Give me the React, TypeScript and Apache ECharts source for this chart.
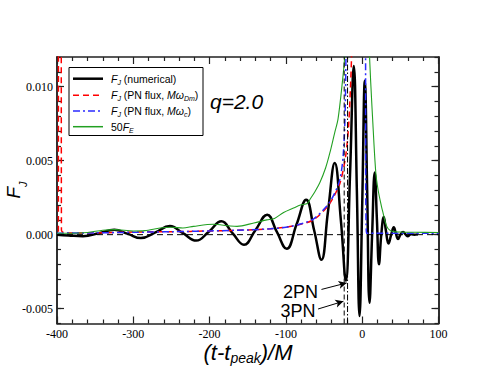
import React, { useEffect, useRef } from "react";
import * as echarts from "echarts";

// ---- data ----
const xTickValues = [-400, -300, -200, -100, 0, 100];
const yMajorTicks = [-0.005, 0, 0.005, 0.01];

const numericalFJ: [number, number][] = [
  [-400, 0.0], [-385, -0.00005], [-366, -0.0001], [-345, 0.0001], [-325, 0.00034],
  [-307, 0.00005], [-290, -0.00023], [-271, 0.00015], [-252, 0.00058], [-235, 0.0001],
  [-217.5, -0.0004], [-201, 0.0002], [-184.5, 0.0009], [-170, 0.0001], [-155, -0.00068],
  [-140, 0.0003], [-124.5, 0.00135], [-112, 0.0002], [-99, -0.00095], [-86, 0.0007],
  [-73.5, 0.00236], [-63, 0.0003], [-53.5, -0.0017], [-45, 0.0015], [-36, 0.00484],
  [-28, 0.001], [-21.5, -0.0031], [-16, 0.004], [-11, 0.0114], [-7, 0.003],
  [-3.5, -0.0055], [0, 0.002], [3.5, 0.0104], [6.5, 0.003], [9.6, -0.0046],
  [13, 0.0], [16.4, 0.0042], [19.3, 0.001], [22, -0.002], [25, 0.0],
  [28.3, 0.0012], [31, 0.0003], [34.5, -0.0006], [38, 0.0], [41.4, 0.0005],
  [44, 0.0001], [47, -0.0003], [50, 0.0], [53.6, 0.00018], [57, 0.0],
  [60, -0.0001], [64, 0.00005], [68, 0.0], [73, 0.00002],
];

const pnFluxDm: [number, number][] = [
  [-398.2, 0.0002], [-397.4, 0.03], [-394.6, 0.03], [-394.2, 0.0003], [-390, 0.00012],
  [-350, 0.00012], [-300, 0.00018], [-250, 0.0002], [-200, 0.00025], [-150, 0.00032],
  [-120, 0.0004], [-100, 0.0005], [-82, 0.00068], [-64, 0.001], [-47, 0.0018],
  [-38, 0.0025], [-29, 0.0035], [-22, 0.0052], [-18, 0.0072], [-15.5, 0.0098],
  [-14, 0.012], [-12, 0.018], [-10, 0.03],
];

const pnFluxC: [number, number][] = [
  [-400, 0.0001], [-350, 0.00012], [-300, 0.00016], [-250, 0.0002], [-200, 0.00025],
  [-150, 0.00032], [-120, 0.0004], [-100, 0.0005], [-82, 0.0007], [-64, 0.00105],
  [-47, 0.0019], [-38, 0.0026], [-29.4, 0.0037], [-25, 0.0053], [-22.5, 0.008],
  [-21.3, 0.012], [-20, 0.02], [3.2, 0.02], [5.7, 0.0001], [100, 0.0001],
];

const fiftyFE: [number, number][] = [
  [-400, 0.0001], [-380, 0.0001], [-360, 0.00015], [-340, 0.0003], [-324, 0.00034],
  [-300, 0.00025], [-285, 0.00027], [-265, 0.00045], [-250, 0.0005], [-235, 0.00045],
  [-221, 0.00056], [-195, 0.0007], [-175, 0.0006], [-164, 0.00056], [-142, 0.00079],
  [-125, 0.001], [-115, 0.0011], [-103, 0.0015], [-90, 0.0018], [-81, 0.002],
  [-72, 0.0021], [-68.7, 0.00236], [-62, 0.0029], [-55.6, 0.0035], [-48, 0.0045],
  [-42.5, 0.0055], [-36, 0.0069], [-31.7, 0.0078], [-26, 0.0103], [-23, 0.012],
  [-20, 0.016], [8, 0.016], [9.7, 0.012], [14, 0.0075], [17.8, 0.0042],
  [20.9, 0.003], [25.3, 0.0019], [27.4, 0.00146], [30.5, 0.0008], [34, 0.0004],
  [40, 0.00022], [50, 0.00018], [70, 0.00016], [100, 0.00015],
];

const zeroLine: [number, number][] = [[-400, 0], [100, 0]];
const line3PN: [number, number][] = [[-23.6, -0.006], [-23.6, 0.012]];
const line2PN: [number, number][] = [[-19.2, -0.006], [-19.2, 0.012]];
const arrow2PN: [number, number][] = [[-53.4, -0.0037], [-20.4, -0.00326]];
const arrow3PN: [number, number][] = [[-57.8, -0.00502], [-24.6, -0.0045]];

const X_MIN = -400, X_MAX = 100, Y_MIN = -0.006, Y_MAX = 0.012;

const SERIF = "'Liberation Serif', 'Times New Roman', serif";
const SANS = "'Liberation Sans', Arial, Helvetica, sans-serif";

export default function App() {
  const ref = useRef<HTMLDivElement>(null);
  useEffect(() => {
    if (!ref.current) return;
    const chart = echarts.init(ref.current, undefined, { renderer: "svg" });
    const axisLine = { show: true, onZero: false, lineStyle: { color: "#222", width: 1.5 } };
    const majorTick = { show: true, inside: true, length: 7, lineStyle: { color: "#222", width: 1.2 } };
    const minorTickStyle = { show: true, inside: true, length: 4, lineStyle: { color: "#222", width: 1.2 } };
    const labelStyle = { color: "#000", fontFamily: SERIF, fontSize: 12 };

    const xBase = {
      type: "value", min: X_MIN, max: X_MAX, interval: 100,
      axisLine, axisTick: majorTick, splitLine: { show: false },
      minorTick: { show: true, splitNumber: 5, length: 4, lineStyle: { color: "#222", width: 1.2 } },
    };
    const yMinor = {
      type: "value", min: Y_MIN, max: Y_MAX, interval: 0.001,
      axisLine, axisTick: minorTickStyle, splitLine: { show: false },
      axisLabel: { show: false },
    };
    const yMajor = {
      type: "value", min: Y_MIN, max: Y_MAX,
      axisLine, splitLine: { show: false },
      axisTick: { ...majorTick, customValues: yMajorTicks },
    };

    const sub = (size: number, lh: number) => ({ fontFamily: SANS, fontStyle: "italic", fontSize: size, lineHeight: lh, verticalAlign: "bottom", fill: "#000" });
    const ital = (size: number, lh: number) => ({ fontFamily: SANS, fontStyle: "italic", fontSize: size, lineHeight: lh, fill: "#000" });

    const legendRows = [
      { text: "{i|F}{s|J} (numerical)", color: "#000", width: 2.5, type: "solid" as any },
      { text: "{i|F}{s|J} (PN flux, {i|Mω}{s|Dm})", color: "#ff0000", width: 1.5, type: [6, 4] as any },
      { text: "{i|F}{s|J} (PN flux, {i|Mω}{s|c})", color: "#2a2aff", width: 1.5, type: [7, 3, 2, 3] as any },
      { text: "50{i|F}{s|E}", color: "#22a022", width: 1.5, type: "solid" as any },
    ];
    const rowY = [78.7, 95.3, 111, 126.7];
    const legendEls: any[] = [
      { type: "rect", shape: { x: 69, y: 67.5, width: 134, height: 68 }, style: { fill: "#fff", stroke: "#000", lineWidth: 1 } },
    ];
    legendRows.forEach((r, i) => {
      legendEls.push({ type: "line", shape: { x1: 73, y1: rowY[i], x2: 103, y2: rowY[i] }, style: { stroke: r.color, lineWidth: r.width, lineDash: r.type === "solid" ? null : r.type } });
      legendEls.push({
        type: "text", x: 111, y: rowY[i],
        style: {
          text: r.text, fontFamily: SANS, fontSize: 10.5, lineHeight: 14, fill: "#000",
          verticalAlign: "middle", align: "left",
          rich: { i: ital(10.5, 14), s: sub(7, 6) },
        },
      });
    });

    const lineSeries = (name: string, data: any, color: string, width: number, type: any, smooth: number | boolean) => ({
      name, type: "line", data, showSymbol: false, symbol: "none", smooth,
      lineStyle: { color, width, type }, clip: true, silent: true, z: 2,
    });

    chart.setOption({
      animation: false,
      backgroundColor: "#fff",
      grid: { left: 57, top: 57, width: 381.5, height: 266.5, containLabel: false },
      xAxis: [
        { ...xBase, position: "bottom", axisLabel: { ...labelStyle, margin: 4, formatter: (v: number) => String(v), customValues: xTickValues } },
        { ...xBase, position: "top", axisLabel: { show: false } },
      ],
      yAxis: [
        { ...yMajor, position: "left", axisLabel: { ...labelStyle, margin: 4, customValues: yMajorTicks, formatter: (v: number) => v.toFixed(3) } },
        { ...yMinor, position: "left" },
        { ...yMajor, position: "right", axisLabel: { show: false } },
        { ...yMinor, position: "right" },
      ],
      series: [
        {
          ...lineSeries("zero", zeroLine, "#000", 1, [6, 4], false),
          markLine: {
            silent: true, symbol: ["none", "arrow"], symbolSize: [6, 8],
            lineStyle: { color: "#000", width: 1, type: "solid" }, label: { show: false },
            data: [
              [{ coord: arrow2PN[0] }, { coord: arrow2PN[1] }],
              [{ coord: arrow3PN[0] }, { coord: arrow3PN[1] }],
            ],
          },
        },
        lineSeries("numerical", numericalFJ, "#000", 2.5, "solid", 0.45),
        lineSeries("pnDm", pnFluxDm, "#ff0000", 1.5, [6, 4], 0.3),
        lineSeries("pnC", pnFluxC, "#2a2aff", 1.5, [7, 3, 2, 3], 0.3),
        lineSeries("fiftyFE", fiftyFE, "#22a022", 1.1, "solid", 0.3),
        lineSeries("v3PN", line3PN, "#000", 1, [5, 3], false),
        lineSeries("v2PN", line2PN, "#000", 1, [6, 2, 1.5, 2], false),
      ],
      graphic: [
        ...legendEls,
        { type: "text", x: 210, y: 101, style: { text: "q=2.0", fontFamily: SANS, fontStyle: "italic", fontSize: 21, fill: "#000", verticalAlign: "middle", align: "left" } },
        { type: "text", x: 318, y: 292, style: { text: "2PN", fontFamily: SANS, fontSize: 18, lineHeight: 18, fill: "#000", verticalAlign: "middle", align: "right" } },
        { type: "text", x: 315.5, y: 311, style: { text: "3PN", fontFamily: SANS, fontSize: 18, lineHeight: 18, fill: "#000", verticalAlign: "middle", align: "right" } },
        {
          type: "text", x: 248, y: 352,
          style: {
            text: "{m|(t-t}{s|peak}{m|)/M}", align: "center", verticalAlign: "middle",
            rich: { m: ital(22, 26), s: sub(14, 12) },
          },
        },
        {
          type: "text", x: 13, y: 190, rotation: Math.PI / 2,
          style: {
            text: "{m|F}{s|J}", align: "center", verticalAlign: "middle",
            rich: { m: ital(19, 30), s: sub(11, 8) },
          },
        },
      ],
    });
    return () => chart.dispose();
  }, []);
  return <div ref={ref} style={{ position: "absolute", left: 0, top: 0, width: 494, height: 382 }} />;
}
